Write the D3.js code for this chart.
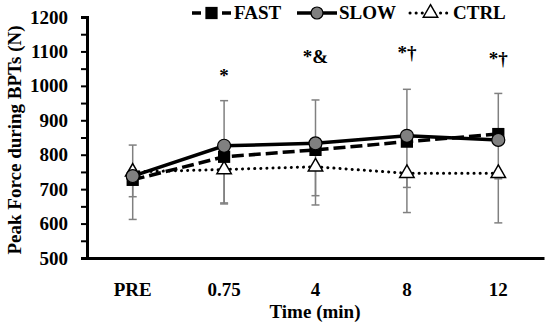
<!DOCTYPE html>
<html>
<head>
<meta charset="utf-8">
<script src="https://cdn.jsdelivr.net/npm/d3@7"></script>
<style>
  body { margin: 0; background: #fff; }
</style>
</head>
<body>
<svg id="chart" width="550" height="327"></svg>
<script>
// categories + series (N)
const times = ["PRE", "0.75", "4", "8", "12"];
const fast = [727, 794, 814, 838, 860];
const slow = [738, 826, 833, 855, 843];
const ctrl = [750, 757, 765, 746, 746];
// error bar ends
const slowUpper = [828, 957, 959, 990, 978];
const fastLower = [612, 660, 654, 632, 602];
const ctrlLower = [678, 657, 681, 705, 730];
const marks = ["", "*", "*&", "*\u2020", "*\u2020"];
const markValue = [null, 1011, 1066, 1078, 1060];
const yTicks = [500, 600, 700, 800, 900, 1000, 1100, 1200];

const FONT = "Liberation Serif";
const FS = 19;

const svg = d3.select("#chart"),
  plotLeft = 87, plotRight = 544, plotTop = 17, plotBottom = 258;

const x = d3.scaleBand().domain(times).range([plotLeft, plotRight]);
const y = d3.scaleLinear().domain([500, 1200]).range([plotBottom, plotTop]);
const cx = d => x(d) + x.bandwidth() / 2;

function label(sel) {
  return sel.attr("font-family", FONT).attr("font-weight", "bold").attr("font-size", FS);
}

// y axis: labels every 100, ticks every 50
const yAxis = d3.axisLeft(y).tickValues(d3.range(500, 1201, 50)).tickSize(6)
  .tickFormat(d => yTicks.includes(d) ? d : "");
const gy = svg.append("g").attr("transform", `translate(${plotLeft},0)`).call(yAxis);
gy.select(".domain").attr("stroke-width", 3);
gy.selectAll(".tick line").attr("stroke-width", 2);
gy.selectAll(".tick text").attr("fill", "#000").attr("x", -19).call(label);

const xAxis = d3.axisBottom(x).tickSize(0).tickSizeOuter(0);
const gx = svg.append("g").attr("transform", `translate(0,${plotBottom})`).call(xAxis);
gx.select(".domain").attr("stroke-width", 3);
gx.selectAll(".tick text").attr("fill", "#000").attr("dy", "1.85em").call(label);

svg.append("text").attr("x", 315).attr("y", 318).attr("text-anchor", "middle")
  .call(label).text("Time  (min)");
svg.append("text").attr("transform", "translate(21,140) rotate(-90)")
  .attr("text-anchor", "middle").call(label).text("Peak Force during BPTs (N)");

// error bars
function errBars(vals, ends) {
  const g = svg.append("g").attr("stroke", "#808080").attr("stroke-width", 1.5);
  times.forEach((t, i) => {
    g.append("line").attr("x1", cx(t)).attr("x2", cx(t)).attr("y1", y(vals[i])).attr("y2", y(ends[i]));
    g.append("line").attr("x1", cx(t) - 4).attr("x2", cx(t) + 4).attr("y1", y(ends[i])).attr("y2", y(ends[i]));
  });
}
errBars(slow, slowUpper);
errBars(fast, fastLower);
errBars(ctrl, ctrlLower);

const line = d3.line().x((d, i) => cx(times[i])).y(d => y(d));
svg.append("path").datum(ctrl).attr("d", line).attr("fill", "none").attr("stroke", "#000")
  .attr("stroke-width", 3).attr("stroke-dasharray", "0.1 6").attr("stroke-linecap", "round");
svg.append("path").datum(fast).attr("d", line).attr("fill", "none").attr("stroke", "#000")
  .attr("stroke-width", 3.5).attr("stroke-dasharray", "12 5");
svg.append("path").datum(slow).attr("d", line).attr("fill", "none").attr("stroke", "#000")
  .attr("stroke-width", 3.5);

const tri = d3.symbol().type(d3.symbolTriangle).size(90);
const sq = d3.symbol().type(d3.symbolSquare).size(150);

svg.append("g").selectAll("path").data(ctrl).join("path")
  .attr("d", tri).attr("transform", (d, i) => `translate(${cx(times[i])},${y(d)})`)
  .attr("fill", "#fff").attr("stroke", "#000").attr("stroke-width", 1.5);
svg.append("g").selectAll("path").data(fast).join("path")
  .attr("d", sq).attr("transform", (d, i) => `translate(${cx(times[i])},${y(d)})`)
  .attr("fill", "#000");
svg.append("g").selectAll("circle").data(slow).join("circle")
  .attr("cx", (d, i) => cx(times[i])).attr("cy", d => y(d)).attr("r", 6.5)
  .attr("fill", "#808080").attr("stroke", "#000").attr("stroke-width", 1.2);

// significance marks
svg.append("g").selectAll("text").data(marks).join("text")
  .attr("x", (d, i) => cx(times[i])).attr("y", (d, i) => markValue[i] ? y(markValue[i]) : 0)
  .attr("text-anchor", "middle").call(label).text(d => d);

// legend
const lg = svg.append("g").attr("transform", "translate(0,13)");
lg.append("line").attr("x1", 192).attr("x2", 231).attr("stroke", "#000").attr("stroke-width", 3.5)
  .attr("stroke-dasharray", "9 6");
lg.append("path").attr("d", sq).attr("transform", "translate(211.5,0)").attr("fill", "#000");
lg.append("line").attr("x1", 297).attr("x2", 337).attr("stroke", "#000").attr("stroke-width", 3.5);
lg.append("circle").attr("cx", 317).attr("r", 6).attr("fill", "#808080").attr("stroke", "#000").attr("stroke-width", 1.2);
lg.append("line").attr("x1", 410).attr("x2", 451).attr("stroke", "#000").attr("stroke-width", 3)
  .attr("stroke-dasharray", "0.1 6").attr("stroke-linecap", "round");
lg.append("path").attr("d", tri).attr("transform", "translate(430.5,0)")
  .attr("fill", "#fff").attr("stroke", "#000").attr("stroke-width", 1.5);
lg.append("text").attr("x", 234).attr("y", 6).call(label).text("FAST");
lg.append("text").attr("x", 339).attr("y", 6).call(label).text("SLOW");
lg.append("text").attr("x", 453).attr("y", 6).call(label).text("CTRL");
</script>
</body>
</html>
